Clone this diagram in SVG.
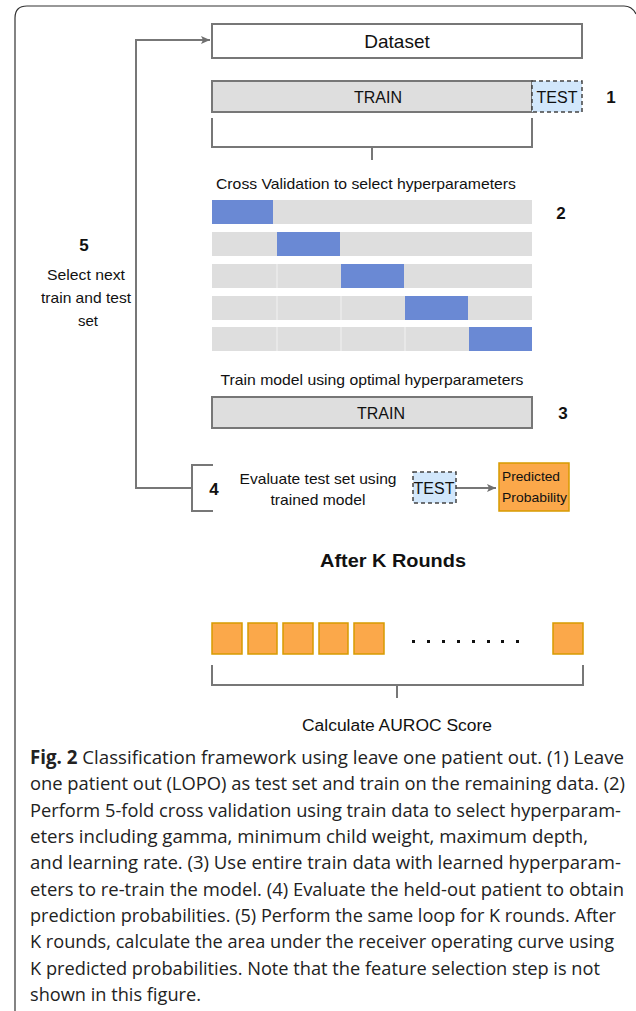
<svg xmlns="http://www.w3.org/2000/svg" width="636" height="1011" viewBox="0 0 636 1011">
<defs>
<marker id="arr" markerWidth="10" markerHeight="10" refX="9" refY="5" orient="auto" markerUnits="userSpaceOnUse">
<path d="M0,1 L9,5 L0,9 L2,5 Z" fill="#6f6f6f"/>
</marker>
<style>
.t{font-family:"Liberation Sans",Arial,sans-serif;fill:#111;}
.n{font-family:"Liberation Sans",Arial,sans-serif;font-weight:bold;font-size:17px;fill:#111;}
.box{stroke:#777;stroke-width:2;}
.gray{fill:#dedede;stroke:#777;stroke-width:2;}
.cv{fill:#dedede;}
.blue{fill:#6a89d4;}
.sep{stroke:#f2f2f2;stroke-width:1;}
.test{fill:#d2e7fb;stroke:#444;stroke-width:1.5;stroke-dasharray:4,3;}
.org{fill:#fba84a;stroke:#d79b00;stroke-width:1.5;}
.ln{fill:none;stroke:#777;stroke-width:2;}
.cap{font-family:"Open Sans","Noto Sans",sans-serif;font-size:19px;fill:#222;}
</style>
</defs>
<rect width="636" height="1011" fill="#fff"/>
<path d="M15,1011 L15,18 Q15,6 27,6 L624,6 Q632,6 636,14" fill="none" stroke="#333" stroke-width="1.2"/>

<g id="connectors">
<path class="ln" d="M192,488 L136,488 L136,40 L210,40" marker-end="url(#arr)"/>
<path class="ln" d="M212,118 L212,147 L532,147 L532,118 M372,147 L372,160"/>
<path class="ln" d="M213,465 L192,465 L192,511 L213,511"/>
<path class="ln" d="M456,488 L496,488" marker-end="url(#arr)"/>
<path class="ln" d="M212,665 L212,685 L583,685 L583,665 M397,685 L397,698"/>
</g>

<g id="dataset">
<rect class="box" x="212" y="24" width="370" height="34" fill="#fff"/>
<text class="t" x="397" y="48" font-size="19" text-anchor="middle">Dataset</text>
</g>

<g id="split">
<rect class="gray" x="212" y="81" width="320" height="31"/>
<text class="t" x="378" y="103" font-size="16" text-anchor="middle">TRAIN</text>
<rect class="test" x="532" y="81" width="50" height="31"/>
<text class="t" x="557" y="103" font-size="16" text-anchor="middle">TEST</text>
<text class="n" x="611" y="103" text-anchor="middle">1</text>
</g>

<g id="cv">
<text class="t" x="366" y="189" font-size="15" text-anchor="middle" textLength="300" lengthAdjust="spacingAndGlyphs">Cross Validation to select hyperparameters</text>
<rect class="cv" x="212" y="200" width="320" height="24"/>
<rect class="blue" x="212" y="200" width="61" height="24"/>
<rect class="cv" x="212" y="232" width="320" height="24"/>
<rect class="blue" x="277" y="232" width="63" height="24"/>
<rect class="cv" x="212" y="264" width="320" height="24"/>
<rect class="blue" x="341" y="264" width="63" height="24"/>
<rect class="cv" x="212" y="296" width="320" height="24"/>
<rect class="blue" x="405" y="296" width="63" height="24"/>
<rect class="cv" x="212" y="327" width="320" height="24"/>
<rect class="blue" x="469" y="327" width="63" height="24"/>
<path class="sep" d="M277,264 L277,288 M277,296 L277,320 M277,327 L277,351 M341,296 L341,320 M341,327 L341,351 M405,327 L405,351"/>
<text class="n" x="561" y="219" text-anchor="middle">2</text>
</g>

<g id="loop-label">
<text class="n" x="84" y="251" text-anchor="middle">5</text>
<text class="t" x="86" y="280" font-size="15" text-anchor="middle" textLength="78" lengthAdjust="spacingAndGlyphs">Select next</text>
<text class="t" x="86" y="303" font-size="15" text-anchor="middle" textLength="90" lengthAdjust="spacingAndGlyphs">train and test</text>
<text class="t" x="88" y="326" font-size="15" text-anchor="middle">set</text>
</g>

<g id="retrain">
<text class="t" x="372" y="385" font-size="15" text-anchor="middle" textLength="303" lengthAdjust="spacingAndGlyphs">Train model using optimal hyperparameters</text>
<rect class="gray" x="212" y="397" width="320" height="31"/>
<text class="t" x="381" y="419" font-size="16" text-anchor="middle">TRAIN</text>
<text class="n" x="563" y="419" text-anchor="middle">3</text>
</g>

<g id="evaluate">
<text class="n" x="214" y="495" text-anchor="middle">4</text>
<text class="t" x="318" y="484" font-size="15" text-anchor="middle" textLength="157" lengthAdjust="spacingAndGlyphs">Evaluate test set using</text>
<text class="t" x="318" y="505" font-size="15" text-anchor="middle" textLength="95" lengthAdjust="spacingAndGlyphs">trained model</text>
<rect class="test" x="413" y="472" width="43" height="31"/>
<text class="t" x="434" y="494" font-size="16" text-anchor="middle">TEST</text>
</g>

<g id="predicted">
<rect class="org" x="499" y="463" width="70" height="48"/>
<text class="t" x="502" y="481" font-size="13.5" textLength="58" lengthAdjust="spacingAndGlyphs">Predicted</text>
<text class="t" x="502" y="502" font-size="13.5" textLength="65" lengthAdjust="spacingAndGlyphs">Probability</text>
</g>

<g id="after">
<text class="t" x="393" y="567" font-size="19" font-weight="bold" text-anchor="middle" textLength="146" lengthAdjust="spacingAndGlyphs">After K Rounds</text>
<rect class="org" x="212" y="623" width="30" height="31"/>
<rect class="org" x="248" y="623" width="29" height="31"/>
<rect class="org" x="283" y="623" width="30" height="31"/>
<rect class="org" x="319" y="623" width="29" height="31"/>
<rect class="org" x="354" y="623" width="30" height="31"/>
<rect class="org" x="553" y="623" width="30" height="31"/>
<g fill="#111">
<rect x="412" y="640" width="3" height="3"/>
<rect x="427" y="640" width="3" height="3"/>
<rect x="442" y="640" width="3" height="3"/>
<rect x="457" y="640" width="3" height="3"/>
<rect x="472" y="640" width="3" height="3"/>
<rect x="487" y="640" width="3" height="3"/>
<rect x="501" y="640" width="3" height="3"/>
<rect x="516" y="640" width="3" height="3"/>
</g>
<text class="t" x="397" y="731" font-size="16" text-anchor="middle" textLength="190" lengthAdjust="spacingAndGlyphs">Calculate AUROC Score</text>
</g>

<g id="caption" transform="translate(30,0) scale(0.86,1)">
<text class="cap" x="0" y="764" textLength="690.7" lengthAdjust="spacingAndGlyphs"><tspan font-weight="bold">Fig. 2</tspan>  Classification framework using leave one patient out. (1) Leave</text>
<text class="cap" x="0" y="790" textLength="691.9" lengthAdjust="spacingAndGlyphs">one patient out (LOPO) as test set and train on the remaining data. (2)</text>
<text class="cap" x="0" y="817" textLength="687.2" lengthAdjust="spacingAndGlyphs">Perform 5-fold cross validation using train data to select hyperparam-</text>
<text class="cap" x="0" y="843" textLength="648.8" lengthAdjust="spacingAndGlyphs">eters including gamma, minimum child weight, maximum depth,</text>
<text class="cap" x="0" y="869" textLength="687.2" lengthAdjust="spacingAndGlyphs">and learning rate. (3) Use entire train data with learned hyperparam-</text>
<text class="cap" x="0" y="896" textLength="690.7" lengthAdjust="spacingAndGlyphs">eters to re-train the model. (4) Evaluate the held-out patient to obtain</text>
<text class="cap" x="0" y="922" textLength="681.4" lengthAdjust="spacingAndGlyphs">prediction probabilities. (5) Perform the same loop for K rounds. After</text>
<text class="cap" x="0" y="948" textLength="679.1" lengthAdjust="spacingAndGlyphs">K rounds, calculate the area under the receiver operating curve using</text>
<text class="cap" x="0" y="975" textLength="662.8" lengthAdjust="spacingAndGlyphs">K predicted probabilities. Note that the feature selection step is not</text>
<text class="cap" x="0" y="1001" textLength="198.8" lengthAdjust="spacingAndGlyphs">shown in this figure.</text>
</g>
</svg>
